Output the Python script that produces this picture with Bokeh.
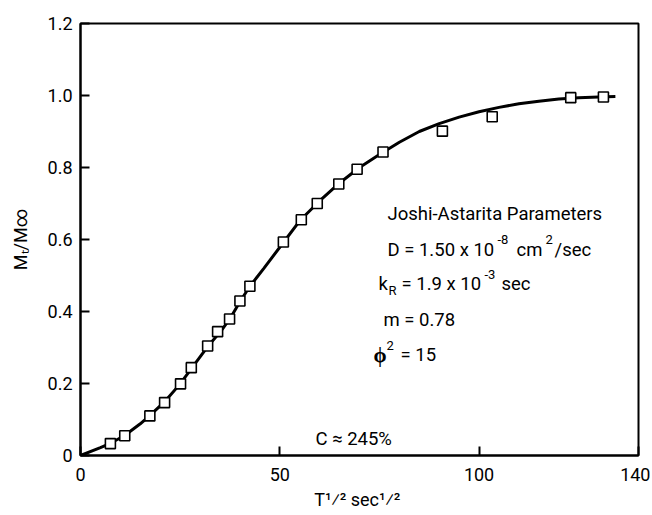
from bokeh.plotting import figure
from bokeh.models import Range1d, FixedTicker, Label
from bokeh.embed import file_html
from bokeh.resources import INLINE

# ---- data ----
x_obs = [7.5, 11.1, 17.4, 21.1, 25.1, 27.8, 31.9, 34.4, 37.4, 40.0, 42.5,
         50.9, 55.4, 59.4, 64.8, 69.4, 75.9, 90.8, 103.3, 123.0, 131.2]
y_obs = [0.033, 0.055, 0.110, 0.147, 0.199, 0.244, 0.304, 0.344, 0.379, 0.429, 0.470,
         0.593, 0.655, 0.700, 0.754, 0.795, 0.843, 0.901, 0.941, 0.994, 0.996]

x_fit = [0, 5, 7.5, 11, 15, 17.5, 21, 25, 28, 32, 35, 37.5, 40, 42.5, 46, 51, 55, 60,
         65, 70, 75, 80, 85, 90, 95, 100, 105, 110, 115, 120, 125, 130, 134.2]
y_fit = [0, 0.022, 0.034, 0.055, 0.088, 0.112, 0.148, 0.199, 0.244, 0.304, 0.342, 0.380,
         0.427, 0.470, 0.520, 0.593, 0.652, 0.707, 0.757, 0.800, 0.836, 0.870, 0.900,
         0.922, 0.940, 0.955, 0.967, 0.977, 0.984, 0.990, 0.994, 0.996, 0.997]

x_ticks = [0, 50, 100, 140]
x_tick_labels = ["0", "50", "100", "140"]
y_ticks = [0, 0.2, 0.4, 0.6, 0.8, 1.0, 1.2]
y_tick_labels = ["0", "0.2", "0.4", "0.6", "0.8", "1.0", "1.2"]
x_title = "T\u00b9\u2044\u00b2  sec\u00b9\u2044\u00b2"
y_title = "M\u209c/M\u221e"

FONT = "Roboto"

W, H = 650, 512
L, R, T, B = 80, 12, 23, 50
p = figure(width=W, height=H, output_backend="svg", toolbar_location=None,
           x_range=Range1d(0, 140), y_range=Range1d(0, 1.2),
           min_border_left=L, min_border_right=R, min_border_top=T, min_border_bottom=B)
p.xgrid.visible = False
p.ygrid.visible = False
p.outline_line_color = "black"
p.outline_line_width = 2
p.background_fill_color = "white"
p.border_fill_color = "white"

p.line(x_fit, y_fit, line_color="black", line_width=3)
p.scatter(x_obs, y_obs, marker="square", size=10, fill_color="white",
          line_color="black", line_width=1.6)

for ax, ticks, labels, stand, title, tstand in (
        (p.xaxis, x_ticks, x_tick_labels, 12, x_title, 5),
        (p.yaxis, y_ticks, y_tick_labels, 8, y_title, 14)):
    ax.ticker = FixedTicker(ticks=ticks)
    ax.major_label_overrides = dict(zip(ticks, labels))
    ax.major_tick_in = 9
    ax.major_tick_out = 0
    ax.minor_tick_line_color = None
    ax.axis_line_width = 2
    ax.major_tick_line_width = 2
    ax.major_label_text_font = FONT
    ax.major_label_text_font_size = "18px"
    ax.major_label_text_color = "black"
    ax.major_label_standoff = stand
    ax.axis_label = title
    ax.axis_label_text_font = FONT
    ax.axis_label_text_font_size = "18px"
    ax.axis_label_text_font_style = "normal"
    ax.axis_label_text_color = "black"
    ax.axis_label_standoff = tstand

# page-pixel helpers for annotation placement inside the frame
FW = W - L - R
FH = H - T - B
X0, Y0 = L, T + FH


def dx(px):
    return (px - X0) / (FW / 140)


def dy(py):
    return (Y0 - py) / (FH / 1.2)


def txt(s, px, py, size=18.5, style="normal"):
    p.add_layout(Label(x=dx(px), y=dy(py), text=s, text_font=FONT,
                       text_font_size=f"{size}px", text_color="black",
                       text_font_style=style,
                       text_baseline="alphabetic", text_align="left"))


txt("Joshi-Astarita Parameters", 387, 217)
txt("D = 1.50 x 10", 387, 253)
txt("-8", 497, 243, 13)
txt("cm", 516, 253)
txt("2", 545, 243, 13)
txt("/sec", 554, 253)
txt("k", 378, 288)
txt("R", 388, 294, 13)
txt("= 1.9 x 10", 401, 288)
txt("-3", 484, 278, 13)
txt("sec", 501, 288)
txt("m = 0.78", 383, 324)
txt("\u03d5", 373, 360, 21, style="bold")
txt("2", 386, 350, 13)
txt("= 15", 400, 360)
txt("C \u2248 245%", 315, 445)

open("out.html", "w").write(file_html(p, INLINE))
